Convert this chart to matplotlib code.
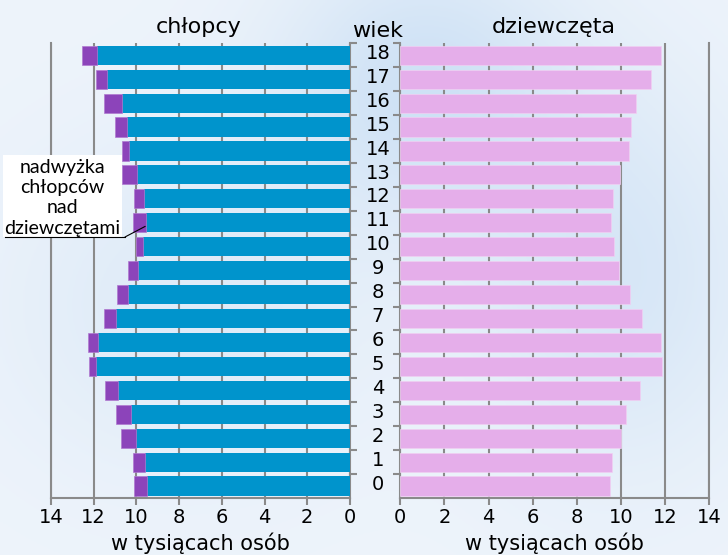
import numpy as np
import matplotlib
matplotlib.use("Agg")
import matplotlib.pyplot as plt
from matplotlib import transforms
from matplotlib.lines import Line2D
from matplotlib.patches import Rectangle

# ---- data (thousands of persons) ----
ages = list(range(0, 19))
girls = [9.49, 9.60, 10.02, 10.24, 10.87, 11.87, 11.80, 10.96, 10.41, 9.93,
         9.70, 9.54, 9.63, 9.96, 10.37, 10.46, 10.69, 11.37, 11.83]
boys = [10.10, 10.15, 10.73, 10.94, 11.46, 12.21, 12.27, 11.52, 10.90, 10.38,
        10.04, 10.15, 10.10, 10.69, 10.66, 11.01, 11.52, 11.91, 12.54]
xticks = [0, 2, 4, 6, 8, 10, 12, 14]
excess = [b - g for b, g in zip(boys, girls)]

C_BLUE = "#0094CC"
C_PURPLE = "#8C44BA"
C_PINK = "#E5AEEA"
C_GRID = "#8a8a8a"

W, H = 728, 555
fig = plt.figure(figsize=(W / 100, H / 100), dpi=100)

# ---- sky-like background ----
bg = fig.add_axes([0, 0, 1, 1], zorder=-10)
yy, xx = np.mgrid[0:1:200j, 0:1:260j]
c1 = np.array([238, 244, 251]) / 255.0
c2 = np.array([188, 215, 242]) / 255.0
t = 0.6 * np.exp(-(((xx - 0.58) / 0.2) ** 2 + ((yy - 0.15) / 0.25) ** 2)) \
    + 0.45 * np.exp(-(((xx - 0.85) / 0.2) ** 2 + ((yy - 0.5) / 0.35) ** 2)) \
    + 0.3 * np.exp(-(((xx - 0.25) / 0.25) ** 2 + ((yy - 0.55) / 0.3) ** 2))
t = np.clip(t, 0, 1)
base = c1[None, None, :] * (1 - t[..., None]) + c2[None, None, :] * t[..., None]
bg.imshow(base, aspect="auto", extent=[0, 1, 0, 1], origin="upper")
bg.set_axis_off()

ax_bottom = 1 - 498 / H
ax_h = (498 - 43.3) / H
axL = fig.add_axes([51 / W, ax_bottom, (350 - 51) / W, ax_h])
axR = fig.add_axes([400.3 / W, ax_bottom, (709.3 - 400.3) / W, ax_h])

bh = 0.8
axL.barh(ages, girls, height=bh, color=C_BLUE, zorder=3, edgecolor="none")
axL.barh(ages, excess, left=girls, height=bh, color=C_PURPLE, zorder=3,
         edgecolor="#b07ad0", linewidth=0.5)
axR.barh(ages, girls, height=bh, color=C_PINK, zorder=3, edgecolor="#f0d0f2",
         linewidth=0.5)

for ax in (axL, axR):
    ax.set_facecolor("none")
    ax.set_ylim(-0.5, 18.5)
    ax.set_xlim(0, 14)
    ax.set_xticks(xticks)
    ax.set_xticklabels([str(v) for v in xticks], fontsize=14)
    ax.set_axisbelow(True)
    ax.grid(axis="x", color=C_GRID, linewidth=1.5, zorder=0)
    ax.spines["top"].set_visible(False)
    for s in ("left", "right", "bottom"):
        ax.spines[s].set_color(C_GRID)
        ax.spines[s].set_linewidth(1.5)
    ax.tick_params(axis="x", colors=C_GRID, labelcolor="black", length=5,
                   width=1.5, pad=2)
    ax.set_yticks([a + 0.5 for a in ages])
    ax.set_yticklabels([])
    ax.set_xlabel("w tysiącach osób", fontsize=15, labelpad=4)

axL.invert_xaxis()
axL.yaxis.tick_right()
axL.tick_params(axis="y", colors=C_GRID, length=5, width=1.5, direction="out")
axR.yaxis.tick_left()
axR.tick_params(axis="y", colors=C_GRID, length=5, width=1.5, direction="out")

# age labels in the centre column
trans = transforms.blended_transform_factory(fig.transFigure, axL.transData)
for a in ages:
    axL.text(378 / W, a + 0.08, str(a), transform=trans, ha="center",
             va="center", fontsize=14, clip_on=False)

# headers
fig.text(199 / W, 1 - 27 / H, "chłopcy", ha="center", va="center", fontsize=16)
fig.text(554 / W, 1 - 27 / H, "dziewczęta", ha="center", va="center", fontsize=16)
fig.text(378 / W, 1 - 31 / H, "wiek", ha="center", va="center", fontsize=16)

# annotation box
fig.patches.append(Rectangle((3 / W, 1 - 237 / H), 119 / W, 82 / H,
                             transform=fig.transFigure, facecolor="white",
                             edgecolor="none", zorder=5))
for i, line in enumerate(["nadwyżka", "chłopców", "nad", "dziewczętami"]):
    fig.text(62 / W, 1 - (167 + 20.5 * i) / H, line, ha="center", va="center",
             fontsize=14, family="Lato", zorder=6)
fig.lines.append(Line2D([5 / W, 125 / W], [1 - 237 / H, 1 - 237 / H],
                        transform=fig.transFigure, color="black", lw=0.8,
                        zorder=6))
axL.annotate("", xy=(girls[11] + 0.05, 10.85), xycoords="data",
             xytext=(125 / W, 1 - 237 / H), textcoords="figure fraction",
             arrowprops=dict(arrowstyle="-", color="black", lw=0.8,
                             shrinkA=0, shrinkB=0), zorder=6)

fig.savefig("out.png", dpi=100)
